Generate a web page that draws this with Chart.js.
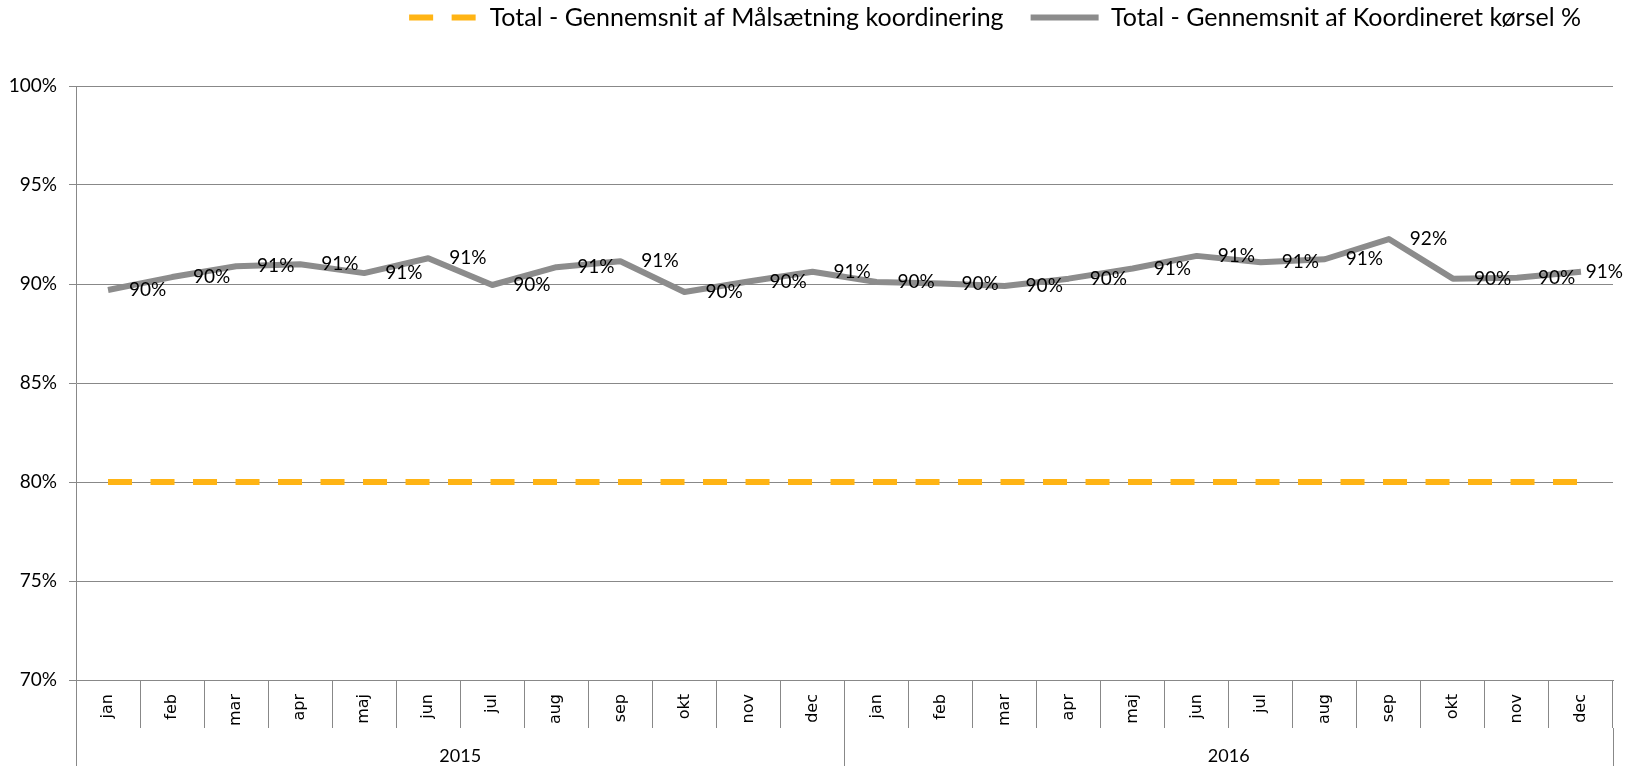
<!DOCTYPE html>
<html>
<head>
<meta charset="utf-8">
<script src="https://cdn.jsdelivr.net/npm/chart.js@4.4.1/dist/chart.umd.min.js"></script>
<style>
html, body { margin: 0; padding: 0; background: #ffffff; }
#wrap { width: 1637px; height: 766px; position: relative; }
canvas { display: block; }
</style>
</head>
<body>
<div id="wrap"><canvas id="c" width="1637" height="766"></canvas></div>
<script>
// ---- data ----
const months = ['jan','feb','mar','apr','maj','jun','jul','aug','sep','okt','nov','dec'];
const years = ['2015', '2016'];
const categories = years.flatMap(() => months);
const seriesNames = ['Total - Gennemsnit af Målsætning koordinering', 'Total - Gennemsnit af Koordineret kørsel %'];
const targetPct = [80,80,80,80,80,80,80,80,80,80,80,80, 80,80,80,80,80,80,80,80,80,80,80,80];
const actualPct = [89.7, 90.35, 90.9, 91.0, 90.55, 91.3, 89.95, 90.85, 91.15, 89.6, 90.13, 90.62,
                   90.1, 90.02, 89.9, 90.27, 90.78, 91.42, 91.1, 91.25, 92.27, 90.27, 90.32, 90.62];
const yTicks = [70, 75, 80, 85, 90, 95, 100];
const yearTickPositions = [-0.5, 5.5, 11.5, 17.5, 23.5];

const GRID = '#888888';
const ORANGE = '#FFB414';
const GRAY = '#8C8C8C';
const DASH = [24, 18.5];

const dataLabels = {
  id: 'dataLabels',
  afterDatasetsDraw(chart) {
    const meta = chart.getDatasetMeta(1);
    const ctx = chart.ctx;
    ctx.save();
    ctx.font = '19px Lato';
    ctx.fillStyle = '#000';
    ctx.textBaseline = 'middle';
    ctx.textAlign = 'left';
    meta.data.forEach((pt, i) => {
      const txt = Math.round(actualPct[i]) + '%';
      const w = ctx.measureText(txt).width;
      let x = pt.x + 21;
      if (x + w > chart.width - 14) x = chart.width - 14 - w;
      ctx.fillText(txt, x, pt.y);
    });
    ctx.restore();
  }
};

const legendLayout = {
  id: 'legendLayout',
  beforeLayout(chart) {
    const lg = chart.legend;
    if (lg && !lg.__patched) {
      const f = lg.fit;
      lg.fit = function () { f.call(this); this.height = 86; };
      lg.__patched = true;
    }
  },
  afterLayout(chart) {
    const lg = chart.legend;
    if (lg) { lg.top -= 22; lg.bottom -= 22; lg.left -= 5; lg.right -= 5; }
  }
};

new Chart(document.getElementById('c'), {
  type: 'line',
  data: {
    labels: categories,
    datasets: [
      {
        label: seriesNames[0],
        data: targetPct,
        borderColor: ORANGE,
        backgroundColor: ORANGE,
        borderWidth: 6,
        borderDash: DASH,
        pointRadius: 0,
        tension: 0,
        xAxisID: 'x',
        yAxisID: 'y'
      },
      {
        label: seriesNames[1],
        data: actualPct,
        borderColor: GRAY,
        backgroundColor: GRAY,
        borderWidth: 6,
        borderJoinStyle: 'round',
        pointRadius: 0,
        tension: 0,
        xAxisID: 'x',
        yAxisID: 'y'
      }
    ]
  },
  options: {
    responsive: false,
    devicePixelRatio: 1,
    animation: false,
    layout: { padding: { left: 0, right: 24, top: 0, bottom: 0 } },
    plugins: {
      legend: {
        position: 'top',
        align: 'end',
        labels: {
          usePointStyle: true,
          pointStyle: 'line',
          pointStyleWidth: 68,
          padding: 27,
          color: '#000',
          font: { family: 'Lato', size: 25 },
          generateLabels: chart => {
            const items = Chart.defaults.plugins.legend.labels.generateLabels(chart);
            items.forEach(it => {
              const ds = chart.data.datasets[it.datasetIndex];
              it.lineDash = ds.borderDash || [];
              it.lineWidth = ds.borderWidth;
              it.strokeStyle = ds.borderColor;
            });
            return items;
          }
        }
      },
      tooltip: { enabled: false }
    },
    scales: {
      x: {
        type: 'category',
        position: 'bottom',
        offset: true,
        grid: { offset: true, drawOnChartArea: false, color: GRID, tickLength: 48, lineWidth: 1 },
        border: { color: GRID },
        ticks: { minRotation: 90, maxRotation: 90, autoSkip: false, padding: -34, color: '#000', font: { family: 'DejaVu Sans', size: 16 } },
        afterFit: s => { s.height = 48; }
      },
      x2: {
        type: 'linear',
        position: 'bottom',
        min: -0.5,
        max: 23.5,
        afterBuildTicks: s => { s.ticks = yearTickPositions.map(v => ({ value: v })); },
        grid: {
          drawOnChartArea: false,
          tickLength: 38,
          color: c => (c.tick && (c.tick.value === 5.5 || c.tick.value === 17.5)) ? 'rgba(0,0,0,0)' : GRID
        },
        border: { display: false },
        ticks: {
          autoSkip: false,
          maxRotation: 0,
          padding: -21,
          color: '#000',
          font: { family: 'Lato', size: 18 },
          callback: v => v === 5.5 ? years[0] : (v === 17.5 ? years[1] : '')
        },
        afterFit: s => { s.height = 38; }
      },
      y: {
        min: 70,
        max: 100,
        afterBuildTicks: s => { s.ticks = yTicks.map(v => ({ value: v })); },
        grid: { color: GRID, tickLength: 7 },
        border: { color: GRID },
        ticks: { padding: 12, color: '#000', font: { family: 'Lato', size: 19 }, callback: v => v + '%' },
        afterFit: s => { s.width = 76; }
      }
    }
  },
  plugins: [legendLayout, dataLabels]
});
</script>
</body>
</html>
